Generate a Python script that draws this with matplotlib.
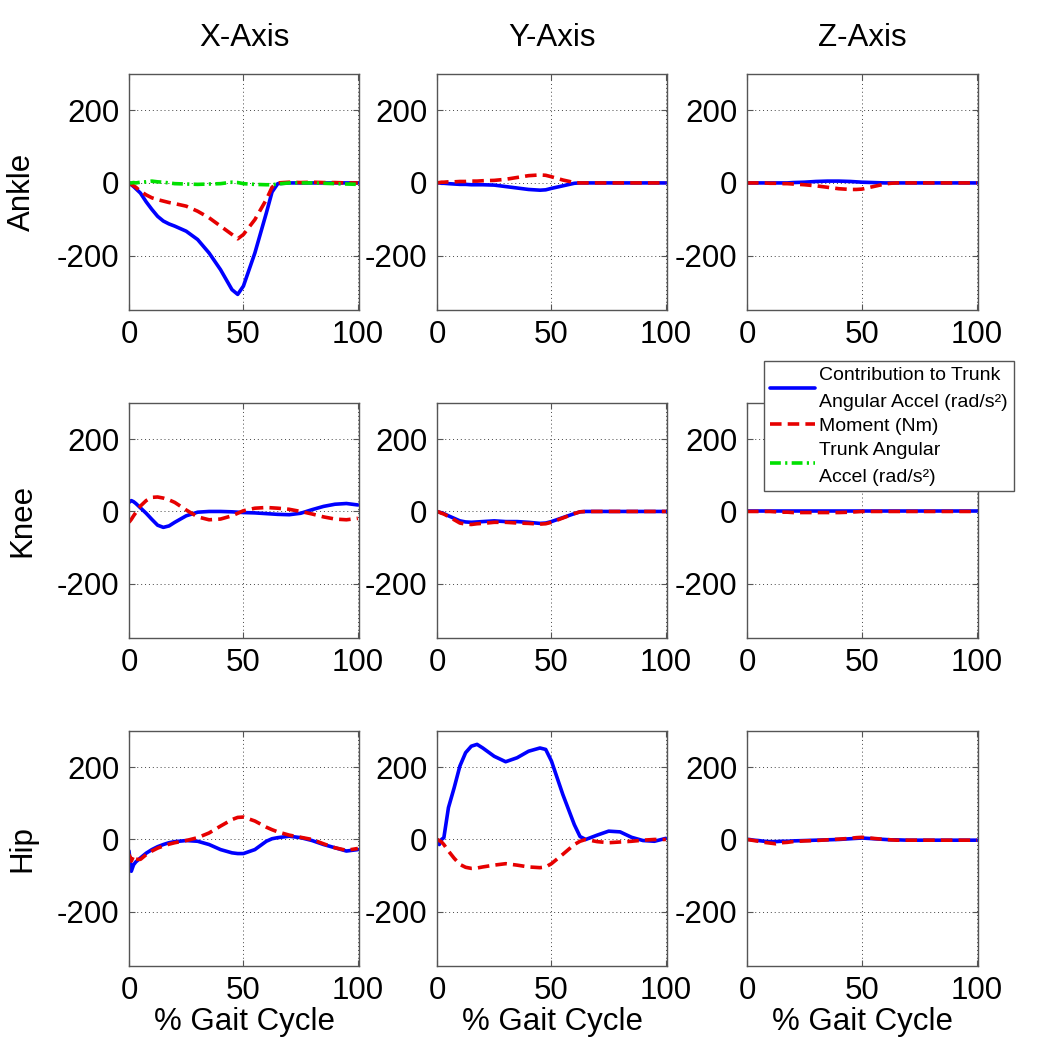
import matplotlib
matplotlib.use("Agg")
import matplotlib.pyplot as plt

plt.rcParams['font.family'] = ['Liberation Sans', 'DejaVu Sans']
plt.rcParams['axes.unicode_minus'] = False

# ---------------- data ----------------
gait = [0, 1, 2, 3, 5, 7.5, 10, 12.5, 15, 17.5, 20, 25, 30, 35, 40, 45, 47.5, 50,
        55, 60, 62.5, 65, 70, 75, 80, 85, 90, 95, 100]

col_titles = ["X-Axis", "Y-Axis", "Z-Axis"]
row_labels = ["Ankle", "Knee", "Hip"]
x_ticks = [0, 50, 100]
y_ticks = [-200, 0, 200]
legend_labels = ["Contribution to Trunk\nAngular Accel (rad/s\u00b2)",
                 "Moment (Nm)",
                 "Trunk Angular\nAccel (rad/s\u00b2)"]
x_label = "% Gait Cycle"

# Contribution to trunk angular accel (blue)
ankle_x_contrib = [0, -5, -10, -16, -28, -52, -73, -92, -105, -113, -119, -133, -156, -193, -239, -294, -307, -284,
                   -193, -83, -25, -2, 0, 0, 0, 0, 0, 0, 0]
ankle_y_contrib = [0, 0, -1, -1, -2, -3, -4, -4, -5, -5, -5, -6, -10, -14, -18, -20, -19, -15,
                   -8, -1, 0, 0, 0, 0, 0, 0, 0, 0, 0]
ankle_z_contrib = [0, 0, 0, 0, 0, 0, 0, 0, 0, 0, 1, 2, 4, 5, 5, 4, 3, 2,
                   1, 0, 0, 0, 0, 0, 0, 0, 0, 0, 0]
knee_x_contrib = [25, 30, 27, 22, 10, -5, -22, -38, -44, -40, -30, -12, -2, 0, 0, -1, -2, -3,
                  -4, -6, -7, -8, -9, -5, 5, 14, 20, 22, 18]
knee_y_contrib = [0, -2, -4, -6, -12, -19, -26, -29, -30, -29, -28, -26, -28, -28, -30, -33, -32, -28,
                  -17, -6, -1, 0, 0, 0, 0, 0, 0, 0, 0]
knee_z_contrib = [0, 0, 0, 0, 0, 0, 0, 0, 0, 0, 0, 0, 0, 0, 0, 0, 0, 0,
                  0, 0, 0, 0, 0, 0, 0, 0, 0, 0, 0]
hip_x_contrib = [-32, -88, -70, -62, -51, -38, -28, -20, -14, -9, -6, -3, -5, -14, -28, -37, -39, -39,
                 -28, -5, 2, 5, 9, 5, -3, -14, -23, -32, -28]
hip_y_contrib = [0, -14, 0, 5, 88, 143, 203, 240, 258, 263, 253, 230, 215, 226, 244, 253, 249, 217,
                 124, 41, 8, 0, 12, 23, 21, 6, -3, -5, 3]
hip_z_contrib = [0, 0, -1, -2, -3, -5, -6, -6, -5, -5, -4, -3, -2, -1, 0, 2, 3, 4,
                 2, 0, -1, -1, -2, -2, -2, -2, -2, -2, -2]

# Moment (red dashed)
ankle_x_moment = [0, -4, -8, -12, -23, -33, -41, -46, -50, -54, -57, -64, -78, -96, -119, -142, -154, -142,
                  -101, -46, -12, 0, 2, 1, 2, 1, 1, 0, 0]
ankle_y_moment = [0, 1, 2, 2, 3, 3, 4, 4, 5, 5, 6, 7, 10, 15, 20, 22, 21, 17,
                  8, 1, 0, 0, 0, 0, 0, 0, 0, 0, 0]
ankle_z_moment = [0, 0, 0, 0, 0, 0, -1, -1, -2, -2, -3, -5, -8, -12, -16, -18, -18, -17,
                  -10, -3, -1, 0, 0, 0, 0, 0, 0, 0, 0]
knee_x_moment = [-30, -22, -12, -3, 15, 30, 39, 40, 37, 32, 25, 4, -15, -23, -21, -12, -5, 2,
                 9, 11, 10, 9, 6, 0, -7, -15, -21, -23, -19]
knee_y_moment = [0, -2, -5, -7, -14, -23, -32, -35, -36, -34, -33, -30, -30, -32, -33, -35, -34, -30,
                 -18, -6, -1, 0, 0, 0, 0, 0, 0, 0, 0]
knee_z_moment = [0, 0, 0, 0, 0, 0, 0, -1, -2, -2, -3, -3, -3, -3, -3, -2, -1, 0,
                 0, 0, 0, 0, 0, 0, 0, 0, 0, 0, 0]
hip_x_moment = [-41, -60, -45, -55, -55, -42, -32, -24, -18, -13, -9, -3, 5, 18, 37, 55, 61, 62,
                51, 34, 27, 21, 12, 6, 0, -12, -23, -30, -25]
hip_y_moment = [0, -3, -7, -14, -32, -52, -69, -77, -80, -79, -76, -71, -67, -71, -76, -78, -76, -67,
                -41, -14, -5, 0, -6, -9, -7, -5, -2, 0, 0]
hip_z_moment = [0, -1, -2, -3, -5, -8, -10, -12, -9, -8, -6, -4, -3, -1, 1, 3, 5, 6,
                3, 0, -1, -2, -2, -2, -2, -2, -2, -2, -2]

# Trunk angular accel (green dash-dot), shown in ankle X panel
trunk_accel_x = [0, 0, 1, 0, 2, 3, 5, 3, 2, 0, -2, -3, -4, -3, -2, 2, 1, -2,
                 -4, -5, -5, -3, 0, 0, 0, -1, -2, -3, -4]

contrib = [[ankle_x_contrib, ankle_y_contrib, ankle_z_contrib],
           [knee_x_contrib, knee_y_contrib, knee_z_contrib],
           [hip_x_contrib, hip_y_contrib, hip_z_contrib]]
moment = [[ankle_x_moment, ankle_y_moment, ankle_z_moment],
          [knee_x_moment, knee_y_moment, knee_z_moment],
          [hip_x_moment, hip_y_moment, hip_z_moment]]

# ---------------- layout ----------------
W, H = 1043, 1050
fig = plt.figure(figsize=(W / 100, H / 100), dpi=100)

col_px = [(129, 359), (437, 667), (747, 978)]
row_px = [(74, 310), (403, 638), (731, 966)]

FS = 22.5
BLUE = '#0000ff'
RED = '#e60000'
GREEN = '#00e000'
SPINE = '#555555'

handles = None
for r in range(3):
    for c in range(3):
        l, rr = col_px[c]
        t, b = row_px[r]
        ax = fig.add_axes([l / W, 1 - b / H, (rr - l) / W, (b - t) / H])
        hb, = ax.plot(gait, contrib[r][c], color=BLUE, lw=2.6, solid_capstyle='round')
        hr, = ax.plot(gait, moment[r][c], color=RED, lw=2.6, dashes=(3.2, 1.7))
        if r == 0 and c == 0:
            hg, = ax.plot(gait, trunk_accel_x, color=GREEN, lw=2.6, dashes=(3.0, 1.2, 0.6, 1.2))
            handles = [hb, hr, hg]
        ax.set_xlim(0, 100.5)
        ax.set_ylim(-350, 300)
        ax.set_xticks(x_ticks)
        ax.set_yticks(y_ticks)
        ax.tick_params(direction='in', length=4, width=0.8, color=SPINE,
                       labelsize=FS, top=True, right=True, pad=7)
        ax.grid(True, color='#444444', linestyle=(0, (1, 3)), linewidth=0.7)
        for s in ax.spines.values():
            s.set_color(SPINE)
            s.set_linewidth(1.0)
        if r == 0:
            ax.set_title(col_titles[c], fontsize=FS, pad=20)
        if c == 0:
            ax.set_ylabel(row_labels[r], fontsize=FS)
            ax.yaxis.set_label_coords((37 - 129) / 230, 0.5)
        if r == 2:
            ax.set_xlabel(x_label, fontsize=FS, labelpad=1)

leg = fig.legend(handles, legend_labels, loc='upper left',
                 bbox_to_anchor=(764 / W, 1 - 361 / H), fontsize=14,
                 handlelength=2.3, handletextpad=0.25, labelspacing=0.35,
                 borderpad=0.3, borderaxespad=0, fancybox=False, framealpha=1)
leg.get_frame().set_edgecolor(SPINE)
leg.get_frame().set_linewidth(1.0)
for txt in leg.get_texts():
    txt.set_linespacing(1.75)

fig.savefig("out.png", dpi=100)
